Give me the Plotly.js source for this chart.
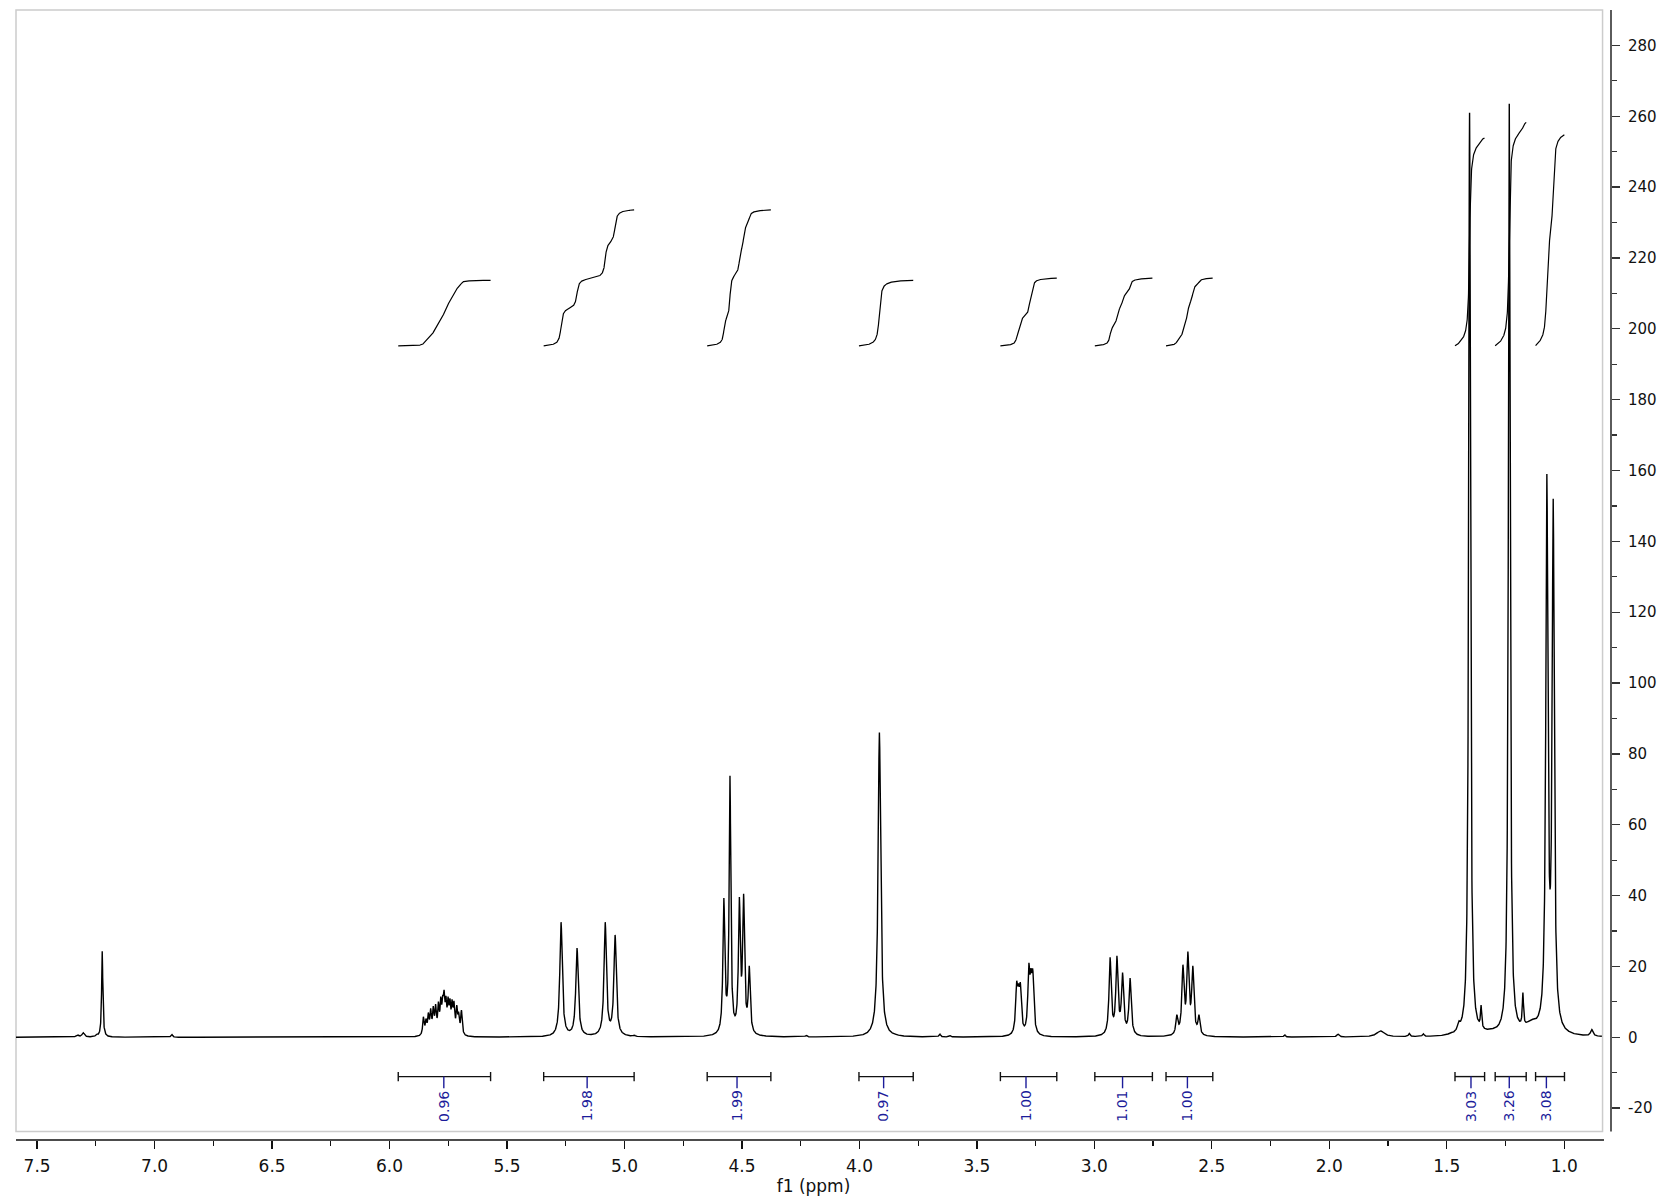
<!DOCTYPE html>
<html><head><meta charset="utf-8">
<script src="https://cdn.plot.ly/plotly-3.0.1.min.js"></script>
<style>html,body{margin:0;padding:0;background:#fff;} #chart{width:1665px;height:1202px;}</style>
</head><body><div id="chart"></div>
<script>
// ---- peak list (shift ppm, apex height, half-width ppm) ----
const peakPpm = [
  7.329, 7.304, 7.247, 7.223, 6.927,
  5.856, 5.845, 5.835, 5.825, 5.814, 5.804, 5.792, 5.782, 5.774, 5.768, 5.760, 5.751, 5.743, 5.734, 5.726, 5.714, 5.706, 5.694,
  5.270, 5.202, 5.082, 5.040, 4.958,
  4.577, 4.551, 4.511, 4.493, 4.469, 4.227,
  3.915, 3.841, 3.658, 3.615,
  3.331, 3.323, 3.315, 3.279, 3.270, 3.262,
  2.933, 2.904, 2.880, 2.848,
  2.649, 2.623, 2.602, 2.581, 2.555,
  2.190, 1.963, 1.782, 1.660, 1.600, 1.485, 1.449,
  1.403, 1.354, 1.310, 1.234, 1.176, 1.140, 1.074, 1.047, 0.883
];
const peakHeight = [
  0.7, 1.3, 1.0, 24.3, 0.8,
  5.8, 5.3, 7.0, 8.2, 8.8, 9.4, 10.1, 11.5, 11.9, 13.4, 11.7, 11.5, 11.0, 10.7, 10.3, 9.1, 7.2, 7.7,
  32.5, 25.2, 32.5, 28.9, 0.6,
  39.3, 73.8, 39.6, 40.5, 20.2, 0.6,
  86.0, 0.8, 0.9, 0.5,
  15.8, 15.2, 15.4, 20.9, 19.5, 19.2,
  22.6, 23.0, 18.3, 16.7,
  6.4, 20.5, 24.2, 20.2, 6.4,
  0.7, 0.9, 1.8, 1.1, 1.0, 1.4, 4.6,
  261.0, 9.1, 2.4, 263.5, 12.6, 5.0, 159.0, 152.0, 2.2
];
const peakHwhm = [
  0.006, 0.006, 0.004, 0.003, 0.004,
  0.0037, 0.0037, 0.0037, 0.0037, 0.0037, 0.0037, 0.0037, 0.0037, 0.0037, 0.0037, 0.0037, 0.0037, 0.0037, 0.0037, 0.0037, 0.0037, 0.0037, 0.0037,
  0.0062, 0.0062, 0.006, 0.006, 0.004,
  0.0048, 0.0042, 0.0048, 0.0048, 0.0048, 0.004,
  0.0065, 0.004, 0.004, 0.004,
  0.005, 0.005, 0.005, 0.005, 0.005, 0.005,
  0.0055, 0.0055, 0.0055, 0.0055,
  0.005, 0.0055, 0.0055, 0.0055, 0.005,
  0.004, 0.006, 0.02, 0.004, 0.004, 0.005, 0.006,
  0.0045, 0.003, 0.03, 0.0045, 0.003, 0.03, 0.0054, 0.0054, 0.006
];

// ---- integrals ----
const integralFrom  = [5.963, 5.344, 4.648, 4.002, 3.400, 2.998, 2.695, 1.465, 1.294, 1.122];
const integralTo    = [5.570, 4.959, 4.377, 3.771, 3.160, 2.753, 2.496, 1.339, 1.162, 0.999];
const integralMark  = [5.769, 5.159, 4.521, 3.897, 3.291, 2.880, 2.604, 1.397, 1.234, 1.076];
const integralLabel = ['0.96', '1.98', '1.99', '0.97', '1.00', '1.01', '1.00', '3.03', '3.26', '3.08'];
const integralTop   = [213.7, 233.6, 233.6, 213.7, 214.3, 214.3, 214.3, 253.9, 258.3, 254.8];
const integralBase  = 195.2;

// ---- axes ----
const xTickVals = [7.5, 7.0, 6.5, 6.0, 5.5, 5.0, 4.5, 4.0, 3.5, 3.0, 2.5, 2.0, 1.5, 1.0];
const xTickText = ['7.5', '7.0', '6.5', '6.0', '5.5', '5.0', '4.5', '4.0', '3.5', '3.0', '2.5', '2.0', '1.5', '1.0'];
const xMinorVals = [7.25, 6.75, 6.25, 5.75, 5.25, 4.75, 4.25, 3.75, 3.25, 2.75, 2.25, 1.75, 1.25];
const yTickVals = [-20, 0, 20, 40, 60, 80, 100, 120, 140, 160, 180, 200, 220, 240, 260, 280];
const yTickText = ['-20', '0', '20', '40', '60', '80', '100', '120', '140', '160', '180', '200', '220', '240', '260', '280'];
const yMinorVals = [-10, 10, 30, 50, 70, 90, 110, 130, 150, 170, 190, 210, 230, 250, 270];

const X_RANGE = [7.590, 0.801];
const Y_RANGE = [-29.0, 290.0];

// ---- line shape from peak list ----
const lor = (d, g) => (g * g) / (g * g + d * d);
const n = peakPpm.length;
let amp = peakHeight.slice();
for (let it = 0; it < 400; it++) {
  const next = new Array(n);
  for (let i = 0; i < n; i++) {
    let s = 0;
    for (let j = 0; j < n; j++) if (j !== i) s += amp[j] * lor(peakPpm[i] - peakPpm[j], peakHwhm[j]);
    next[i] = Math.max(0, peakHeight[i] - s);
  }
  for (let i = 0; i < n; i++) amp[i] = 0.5 * amp[i] + 0.5 * next[i];
}
const step = 0.0005;
const nPts = Math.round((X_RANGE[0] - 0.84) / step) + 1;
const sx = [], sy = [];
for (let k = 0; k < nPts; k++) {
  const x = X_RANGE[0] - k * step;
  let y = 0;
  for (let j = 0; j < n; j++) y += amp[j] * lor(x - peakPpm[j], peakHwhm[j]);
  sx.push(x); sy.push(y);
}

const traces = [{
  type: 'scatter', mode: 'lines', x: sx, y: sy,
  line: {color: '#000', width: 1.4}, hoverinfo: 'skip', showlegend: false
}];

const shapes = [];
const annotations = [];
const BAR_Y = -11.1, CAP = 1.3, BLUE_END = -14.4;
for (let r = 0; r < integralFrom.length; r++) {
  const ix = [], iy = [];
  let tot = 0;
  for (let k = 0; k < nPts; k++) if (sx[k] <= integralFrom[r] && sx[k] >= integralTo[r]) tot += sy[k];
  let cum = 0;
  for (let k = 0; k < nPts; k++) {
    if (sx[k] <= integralFrom[r] && sx[k] >= integralTo[r]) {
      cum += sy[k];
      ix.push(sx[k]);
      iy.push(integralBase + (integralTop[r] - integralBase) * cum / tot);
    }
  }
  traces.push({type: 'scatter', mode: 'lines', x: ix, y: iy,
    line: {color: '#000', width: 1.2}, hoverinfo: 'skip', showlegend: false});

  shapes.push({type: 'line', xref: 'x', yref: 'y', x0: integralFrom[r], x1: integralTo[r], y0: BAR_Y, y1: BAR_Y, line: {color: '#111', width: 1.4}});
  shapes.push({type: 'line', xref: 'x', yref: 'y', x0: integralFrom[r], x1: integralFrom[r], y0: BAR_Y + CAP, y1: BAR_Y - CAP, line: {color: '#111', width: 1.4}});
  shapes.push({type: 'line', xref: 'x', yref: 'y', x0: integralTo[r], x1: integralTo[r], y0: BAR_Y + CAP, y1: BAR_Y - CAP, line: {color: '#111', width: 1.4}});
  shapes.push({type: 'line', xref: 'x', yref: 'y', x0: integralMark[r], x1: integralMark[r], y0: BAR_Y, y1: BLUE_END, line: {color: '#1c1c9a', width: 1.4}});
  annotations.push({xref: 'x', yref: 'y', x: integralMark[r], y: BLUE_END - 0.1, text: integralLabel[r],
    textangle: -90, xanchor: 'center', yanchor: 'top', showarrow: false,
    font: {family: 'DejaVu Sans', size: 14, color: '#1c1c9a'}});
}

// frame and separated axis lines
shapes.push({type: 'rect', xref: 'paper', yref: 'paper', x0: 0, x1: 0.9947, y0: 0.0075, y1: 1, line: {color: '#cccccc', width: 1.5}, layer: 'below'});
shapes.push({type: 'line', xref: 'paper', yref: 'paper', x0: 0, x1: 0.9956, y0: 0, y1: 0, line: {color: '#111', width: 1.6}});
shapes.push({type: 'line', xref: 'paper', yref: 'paper', x0: 1, x1: 1, y0: 0.0075, y1: 1, line: {color: '#333', width: 1.6}});

const layout = {
  width: 1665, height: 1202,
  margin: {l: 16, r: 54, t: 10, b: 62},
  paper_bgcolor: '#fff', plot_bgcolor: '#fff',
  showlegend: false,
  xaxis: {
    range: X_RANGE, tickmode: 'array', tickvals: xTickVals, ticktext: xTickText,
    ticks: 'outside', ticklen: 8, tickwidth: 1.3, tickcolor: '#111', ticklabelstandoff: 3,
    minor: {tickmode: 'array', tickvals: xMinorVals, ticks: 'outside', ticklen: 5, tickwidth: 1.2, tickcolor: '#111', showgrid: false},
    showgrid: false, zeroline: false, showline: false,
    tickfont: {family: 'DejaVu Sans', size: 17, color: '#111'},
    title: {text: 'f1 (ppm)', font: {family: 'DejaVu Sans', size: 17, color: '#111'}, standoff: 3}
  },
  yaxis: {
    range: Y_RANGE, side: 'right', tickmode: 'array', tickvals: yTickVals, ticktext: yTickText,
    ticks: 'outside', ticklen: 8, tickwidth: 1.3, tickcolor: '#333', ticklabelstandoff: 5,
    minor: {tickmode: 'array', tickvals: yMinorVals, ticks: 'outside', ticklen: 5, tickwidth: 1.2, tickcolor: '#333', showgrid: false},
    showgrid: false, zeroline: false, showline: false,
    tickfont: {family: 'DejaVu Sans', size: 15, color: '#111'}
  },
  shapes: shapes,
  annotations: annotations
};

Plotly.newPlot('chart', traces, layout, {displayModeBar: false, staticPlot: true});
</script>
</body></html>
